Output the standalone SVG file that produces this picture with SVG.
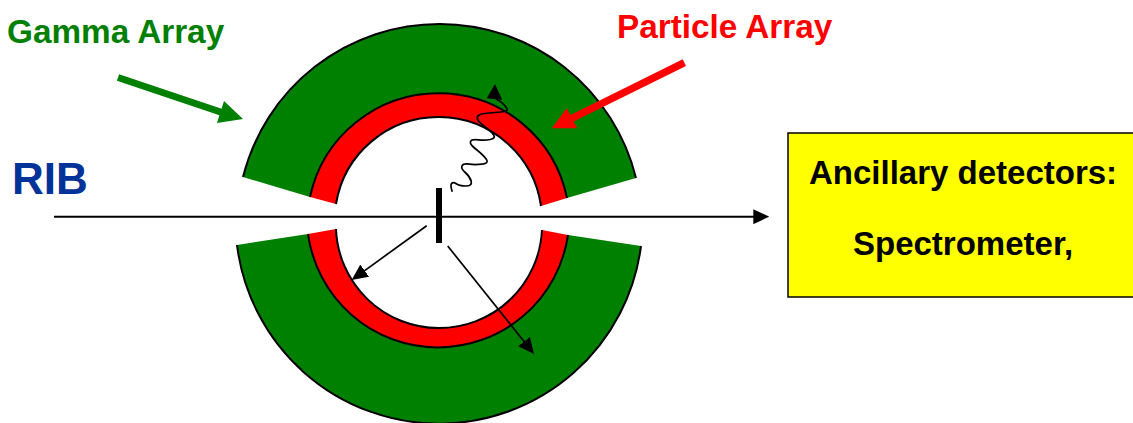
<svg xmlns="http://www.w3.org/2000/svg" width="1133" height="423" viewBox="0 0 1133 423">
<style>
text{font-family:"Liberation Sans",Arial,sans-serif;font-weight:700}
.g{fill:#008000}.r{fill:#ff0000}.arc{fill:none;stroke:#000;stroke-width:2}
.ln{stroke:#000;stroke-width:1.700;fill:none}
</style>
<defs>
<marker id="a" viewBox="0 0 16 15" refX="11" refY="7.500" markerWidth="16" markerHeight="15" markerUnits="userSpaceOnUse" orient="auto"><path d="M0 0L16 7.500L0 15Z" fill="#000"/></marker>
</defs>
<rect width="1133" height="423" fill="#fff"/>
<g id="gamma-array-top">
<path class="g" d="M243 177A202.500 202.500 0 0 1 636 178L567 198A131.300 131.300 0 0 0 310 197Z"/>
<path class="arc" d="M243 177A202.500 202.500 0 0 1 636 178"/>
</g>
<g id="particle-array-top">
<path class="r" d="M310 197A131.300 131.300 0 0 1 567 198L541 206A103.700 103.700 0 0 0 336 204Z"/>
<path class="arc" d="M310 197A131.300 131.300 0 0 1 567 198M541 206A103.700 103.700 0 0 0 336 204"/>
</g>
<g id="gamma-array-bottom">
<path class="g" d="M237 245A203.600 203.600 0 0 0 641 246L568 235A131.300 131.300 0 0 1 308 234Z"/>
<path class="arc" d="M237 245A203.600 203.600 0 0 0 641 246"/>
</g>
<g id="particle-array-bottom">
<path class="r" d="M308 234A131.300 131.300 0 0 0 568 235L542 230A103.100 103.100 0 0 1 336 229Z"/>
<path class="arc" d="M308 234A131.300 131.300 0 0 0 568 235M542 230A103.100 103.100 0 0 1 336 229"/>
</g>
<g id="target"><rect x="436" y="188" width="6" height="55" fill="#000"/></g>
<g id="connectors">
<path class="ln" style="stroke-width:2" d="M54 216.700H764.300" marker-end="url(#a)"/>
<path class="ln" d="M426.700 225.700L355.750 277.070" marker-end="url(#a)"/>
<path class="ln" d="M447.700 246L530.900 350.100" marker-end="url(#a)"/>
<path class="ln" d="M452.300 191.700Q450 185 451.700 183.300Q453.300 181.700 456.300 183.800Q459.300 186 465.800 186Q472.300 186 471.200 181.300Q470 176.700 465.300 172.500Q460.700 168.300 462 165.800Q463.300 163.300 469.200 164.200Q475 165 482.200 164.200Q489.300 163.300 486.300 159.200Q483.300 155 476.300 149.500Q469.300 144 470.500 141.500Q471.700 139 478.300 139.800Q485 140.700 490.300 139.500Q495.700 138.300 493.700 135Q491.700 131.700 485 126.700Q478.300 121.700 477.500 119.200Q476.700 116.700 479.200 115Q481.700 113.300 495 112.500Q508.300 111.700 507.200 109.200Q506 106.700 503 103.700Q500 100.700 496 99.300"/>
<path d="M495 84L486.700 98.300L502.300 100Z" fill="#000"/>
<path d="M119.100 74.200L221.600 108.700L224 101L243 119L217 123L219.400 115.300L116.900 80.800Z" fill="#008000"/>
<path d="M682.700 59.300L570.400 115L566.700 108.300L551.700 128.300L577.300 128.300L573.600 121.600L686 66Z" fill="#ff0000"/>
</g>
<g id="gamma-label"><text x="7" y="43" font-size="33.300" fill="#008000">Gamma Array</text></g>
<g id="particle-label"><text x="617" y="38" font-size="33.300" fill="#ff0000">Particle Array</text></g>
<g id="rib-label"><text x="12" y="194" font-size="44" fill="#003399">RIB</text></g>
<g id="ancillary">
<rect x="788" y="133" width="350" height="164" fill="#ffff00" stroke="#000" stroke-width="1.500"/>
<text x="809" y="184" font-size="33" fill="#000">Ancillary detectors:</text>
<text x="853" y="255" font-size="33" fill="#000">Spectrometer,</text>
</g>
</svg>
